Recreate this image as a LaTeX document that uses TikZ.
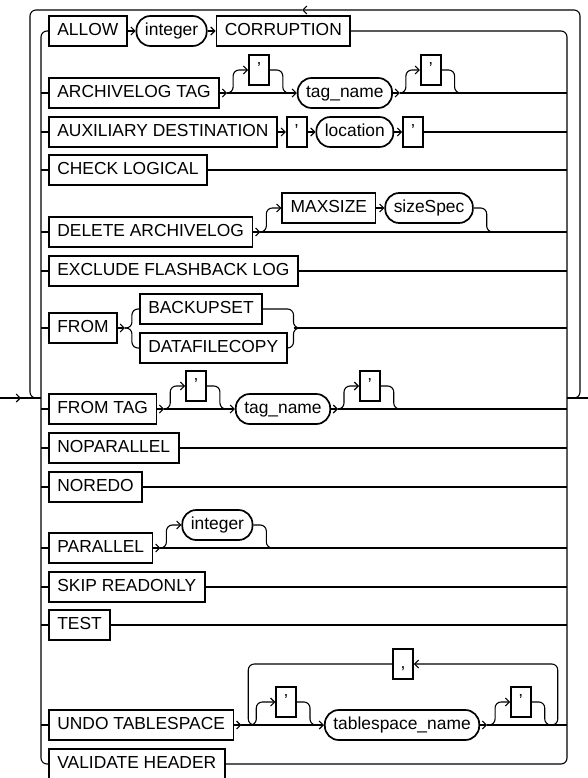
\documentclass[tikz,border=0pt]{standalone}
\usepackage{fontspec}
\setmainfont{Liberation Sans}
\usetikzlibrary{arrows.meta, positioning, calc}

\begin{document}
\begin{tikzpicture}[
    x=1pt, y=1pt,
    kw/.style={draw, line width=1.7pt, minimum height=30pt, inner xsep=8.5pt,
               inner ysep=0pt, text height=13pt, text depth=4pt,
               font=\fontsize{17.4}{20}\selectfont},
    term/.style={kw, rounded corners=14pt},
    punct/.style={kw, minimum width=20pt, inner xsep=0pt},
    rail/.style={line width=1.1pt},
    tip/.style={-{Straight Barb[length=4pt,width=8pt]}},
    railbend/.style={rail, rounded corners=6pt},
    node distance=8pt,
]
    \useasboundingbox (0,0) rectangle (588,-778);

    \coordinate (start)  at (0,-398);
    \coordinate (finish) at (588,-398);
    \coordinate (inL)    at (41,-398);
    \coordinate (inR)    at (567,-398);
    \coordinate (topL)   at (30,-10);
    \coordinate (topR)   at (580,-10);
    \coordinate (topmid) at (302,-10);

    \node[kw, anchor=west] (allow) at (48,-31) {ALLOW};
    \node[term, right=of allow] (int1) {integer};
    \node[kw, right=of int1] (corr) {CORRUPTION};

    \node[kw, anchor=west] (arch) at (48,-93) {ARCHIVELOG TAG};
    \node[punct, right=28pt of arch, yshift=23pt] (archq1) {'};
    \node[term, right=27pt of archq1, yshift=-23pt] (tag1) {tag\_name};
    \node[punct, right=27pt of tag1, yshift=23pt] (archq2) {'};

    \node[kw, anchor=west] (aux) at (48,-132) {AUXILIARY DESTINATION};
    \node[punct, right=of aux] (auxq1) {'};
    \node[term, right=of auxq1] (loc) {location};
    \node[punct, right=of loc] (auxq2) {'};

    \node[kw, anchor=west] (check) at (48,-170) {CHECK LOGICAL};

    \node[kw, anchor=west] (del) at (48,-232) {DELETE ARCHIVELOG};
    \node[kw, right=28pt of del, yshift=24pt] (maxsz) {MAXSIZE};
    \node[term, right=of maxsz] (size) {sizeSpec};

    \node[kw, anchor=west] (excl) at (48,-271) {EXCLUDE FLASHBACK LOG};

    \node[kw, anchor=west] (from) at (48,-328) {FROM};
    \node[kw, right=21pt of from, yshift=19pt] (bkset) {BACKUPSET};
    \node[kw, right=21pt of from, yshift=-20pt] (dfcopy) {DATAFILECOPY};

    \node[kw, anchor=west] (fromtag) at (48,-409) {FROM TAG};
    \node[punct, right=28pt of fromtag, yshift=23pt] (ftq1) {'};
    \node[term, right=28pt of ftq1, yshift=-23pt] (tag2) {tag\_name};
    \node[punct, right=28pt of tag2, yshift=23pt] (ftq2) {'};

    \node[kw, anchor=west] (nopar) at (48,-448) {NOPARALLEL};
    \node[kw, anchor=west] (noredo) at (48,-487) {NOREDO};

    \node[kw, anchor=west] (par) at (48,-548) {PARALLEL};
    \node[term, right=28pt of par, yshift=23pt] (int2) {integer};

    \node[kw, anchor=west] (skip) at (48,-587) {SKIP READONLY};
    \node[kw, anchor=west] (test) at (48,-625) {TEST};

    \node[kw, anchor=west] (undo) at (48,-725) {UNDO TABLESPACE};
    \node[punct, right=41pt of undo, yshift=23pt] (tsq1) {'};
    \node[term, right=27pt of tsq1, yshift=-23pt] (tsname) {tablespace\_name};
    \node[punct, right=30pt of tsname, yshift=23pt] (tsq2) {'};

    \node[kw, anchor=west] (valid) at (48,-764) {VALIDATE HEADER};

    % main line and outer loop
    \draw[rail] (start) -- (inL);
    \draw[rail, tip] (start) -- ++(21,0);
    \draw[rail] (inR) -- (finish);
    \draw[railbend, tip] ($(inR)+(6,0)$) -- (inR -| topR) -- (topR) -- (topmid);
    \draw[railbend] (topmid) -- (topL) -- (topL |- inL) -- ++(7,0);

    % choice bars
    \draw[railbend] (allow.west) -- (inL |- allow.west) -- (inL |- valid.west) -- (valid.west);
    \draw[railbend] (corr.east) -- (inR |- corr.east) -- (inR |- valid.east) -- (valid.east);
    \foreach \n in {arch, aux, check, del, excl, from, fromtag, nopar, noredo, par, skip, test, undo}
        \draw[rail] (inL |- \n.west) -- (\n.west);

    \draw[rail, tip] (allow) -- (int1);
    \draw[rail, tip] (int1) -- (corr);

    \draw[rail, tip] (arch.east) -- ++(7,0) coordinate (archf);
    \draw[rail, tip] (archf) -- (tag1.west);
    \draw[railbend, tip] (archf) -- ++(6,0) |- (archq1.west);
    \draw[railbend] (archq1.east) -- ++(13,0) |- ++(7,-23);
    \draw[rail, tip] (tag1.east) -- ++(7,0) coordinate (tag1f);
    \draw[railbend, tip] (tag1f) -- ++(6,0) |- (archq2.west);
    \draw[railbend] (archq2.east) -- ++(13,0) |- ++(7,-23);

    \draw[rail, tip] (aux) -- (auxq1);
    \draw[rail, tip] (auxq1) -- (loc);
    \draw[rail, tip] (loc) -- (auxq2);

    \draw[rail, tip] (del.east) -- ++(7,0) coordinate (delf);
    \draw[railbend, tip] (delf) -- ++(6,0) |- (maxsz.west);
    \draw[rail, tip] (maxsz) -- (size);
    \draw[railbend] (size.east) -- ++(13,0) |- ++(7,-24);

    \draw[rail, tip] (from.east) -- ++(7,0) coordinate (fromf);
    \draw[railbend] (bkset.west) -- ++(-7,0) |- (fromf);
    \draw[railbend] (dfcopy.west) -- ++(-7,0) |- (fromf);
    \coordinate (fromR) at ($(dfcopy.east |- from)+(6,0)$);
    \draw[railbend] (bkset.east) -| (fromR) -- ++(7,0);
    \draw[railbend] (dfcopy.east) -| (fromR) -- ++(7,0);

    \draw[rail, tip] (fromtag.east) -- ++(7,0) coordinate (fromtagf);
    \draw[rail, tip] (fromtagf) -- (tag2.west);
    \draw[railbend, tip] (fromtagf) -- ++(6,0) |- (ftq1.west);
    \draw[railbend] (ftq1.east) -- ++(13,0) |- ++(7,-23);
    \draw[rail, tip] (tag2.east) -- ++(7,0) coordinate (tag2f);
    \draw[railbend, tip] (tag2f) -- ++(6,0) |- (ftq2.west);
    \draw[railbend] (ftq2.east) -- ++(13,0) |- ++(7,-23);

    \draw[rail, tip] (par.east) -- ++(7,0) coordinate (parf);
    \draw[railbend, tip] (parf) -- ++(6,0) |- (int2.west);
    \draw[railbend] (int2.east) -- ++(13,0) |- ++(7,-23);

    % repeated tablespace names
    \draw[rail, tip] (undo.east) -- ++(7,0) coordinate (undof);
    \coordinate[right=7pt of undof] (loopL);
    \draw[rail, tip] (undof) -- (tsname.west);
    \draw[railbend, tip] (loopL) -- ++(8,0) |- (tsq1.west);
    \draw[railbend] (tsq1.east) -- ++(13,0) |- ++(7,-23);
    \draw[rail, tip] (tsname.east) -- ++(7,0) coordinate (tsf);
    \draw[railbend, tip] (tsf) -- ++(8,0) |- (tsq2.west);
    \draw[railbend] (tsq2.east) -- ++(13,0) |- ++(7,-23);
    \coordinate (loopR) at ($(tsq2.east |- tsf)+(26,0)$);
    \node[punct] (comma) at ($(loopL)!0.5!(loopR)+(0,61)$) {,};
    \draw[railbend, tip] ($(loopR)+(-7,0)$) -- (loopR) |- (comma.east);
    \draw[railbend] (comma.west) -| (loopL) -- ++(7,0);

    \foreach \n in {check, excl, nopar, noredo, skip, test, auxq2}
        \draw[rail] (\n.east) -- (inR |- \n.east);
    \foreach \c in {tag1f, delf, fromR, tag2f, parf, tsf}
        \draw[rail] (\c) -- (inR |- \c);
\end{tikzpicture}
\end{document}
